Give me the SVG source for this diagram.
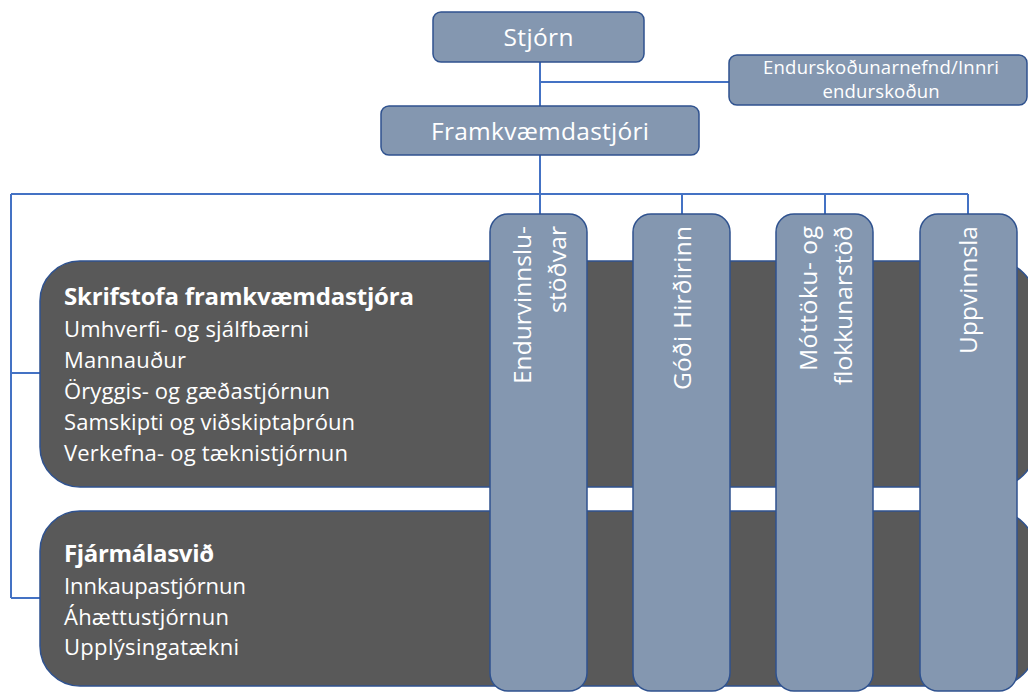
<svg xmlns="http://www.w3.org/2000/svg" width="1028" height="693" viewBox="0 0 1028 693">
<style>
.box{fill:#8497B0;stroke:#2F528F;stroke-width:1.5}
.dark{fill:#595959;stroke:#2F528F;stroke-width:1.5}
.con{fill:none;stroke:#4472C4;stroke-width:2}
.t{font-family:"Open Sans","Liberation Sans",sans-serif;fill:#FFFFFF}
.big{font-size:24.5px}
.mid{font-size:18.5px}
.body{font-size:22px}
.head{font-size:24px;font-weight:bold}
</style>
<rect width="1028" height="693" fill="#FFFFFF"/>
<g id="connectors">
<path class="con" d="M540 62V107M540 82H729M540 155V214M11 194H968M682 194V214M825 194V214M968 194V214M11 194V598M11 373H40M11 598H40"/>
</g>
<g id="n-stjorn">
<rect class="box" x="433" y="12" width="211" height="50" rx="8"/>
<text class="t big" x="538.5" y="46" text-anchor="middle" textLength="70">Stjórn</text>
</g>
<g id="n-endurskodun">
<rect class="box" x="729" y="55" width="298" height="50" rx="8"/>
<text class="t mid" x="881" y="74" text-anchor="middle" textLength="236">Endurskoðunarnefnd/Innri</text>
<text class="t mid" x="881" y="98" text-anchor="middle" textLength="117">endurskoðun</text>
</g>
<g id="n-framkv">
<rect class="box" x="381" y="106" width="318" height="49" rx="8"/>
<text class="t big" x="540" y="140" text-anchor="middle" textLength="218">Framkvæmdastjóri</text>
</g>
<g id="n-skrifstofa">
<rect class="dark" x="40" y="261" width="995" height="226" rx="40"/>
<text class="t head" x="64" y="305" textLength="350">Skrifstofa framkvæmdastjóra</text>
<text class="t body" x="64" y="337" textLength="245">Umhverfi- og sjálfbærni</text>
<text class="t body" x="64" y="368" textLength="122">Mannauður</text>
<text class="t body" x="64" y="399" textLength="266">Öryggis- og gæðastjórnun</text>
<text class="t body" x="64" y="430" textLength="291">Samskipti og viðskiptaþróun</text>
<text class="t body" x="64" y="461" textLength="284">Verkefna- og tæknistjórnun</text>
</g>
<g id="n-fjarmal">
<rect class="dark" x="40" y="511" width="995" height="175" rx="40"/>
<text class="t head" x="64" y="562" textLength="150">Fjármálasvið</text>
<text class="t body" x="64" y="594" textLength="182">Innkaupastjórnun</text>
<text class="t body" x="64" y="625" textLength="165">Áhættustjórnun</text>
<text class="t body" x="64" y="655" textLength="175">Upplýsingatækni</text>
</g>
<g id="n-col1">
<rect class="box" x="490" y="214" width="97" height="477" rx="18"/>
<text class="t big" transform="translate(531,226) rotate(-90)" text-anchor="end" textLength="158">Endurvinnslu-</text>
<text class="t big" transform="translate(566,226) rotate(-90)" text-anchor="end" textLength="87">stöðvar</text>
</g>
<g id="n-col2">
<rect class="box" x="633" y="214" width="97" height="477" rx="18"/>
<text class="t big" transform="translate(691,226) rotate(-90)" text-anchor="end" textLength="164">Góði Hirðirinn</text>
</g>
<g id="n-col3">
<rect class="box" x="776" y="214" width="97" height="477" rx="18"/>
<text class="t big" transform="translate(817,226) rotate(-90)" text-anchor="end" textLength="145">Móttöku- og</text>
<text class="t big" transform="translate(852,226) rotate(-90)" text-anchor="end" textLength="159">flokkunarstöð</text>
</g>
<g id="n-col4">
<rect class="box" x="920" y="214" width="97" height="477" rx="18"/>
<text class="t big" transform="translate(977,226) rotate(-90)" text-anchor="end" textLength="128">Uppvinnsla</text>
</g>
</svg>
